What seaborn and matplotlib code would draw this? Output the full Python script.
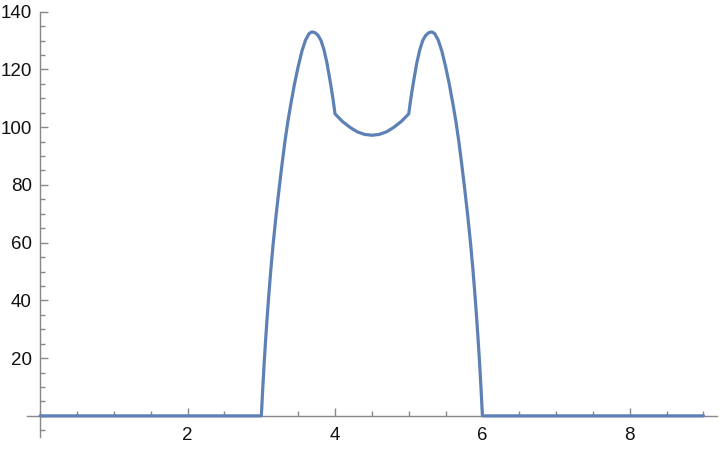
import matplotlib
matplotlib.use("Agg")
import matplotlib.pyplot as plt
from matplotlib.ticker import MultipleLocator, FixedLocator
import seaborn as sns
import pandas as pd

# ---- data ----
x_vals = [0.0, 3.00, 3.02, 3.04, 3.06, 3.08, 3.10, 3.13, 3.16, 3.20, 3.24, 3.28,
          3.32, 3.36, 3.40, 3.45, 3.50, 3.55, 3.60, 3.65, 3.69, 3.73, 3.77,
          3.81, 3.85, 3.89, 3.93, 3.97, 4.00, 4.10, 4.20, 4.30, 4.40, 4.50,
          4.60, 4.70, 4.80, 4.90, 5.00, 5.03, 5.07, 5.11, 5.15, 5.19, 5.23,
          5.27, 5.31, 5.35, 5.40, 5.45, 5.50, 5.55, 5.60, 5.64, 5.68, 5.72,
          5.76, 5.80, 5.84, 5.87, 5.90, 5.92, 5.94, 5.96, 5.98, 6.00, 9.0]
y_vals = [0.0, 0.0, 10.0, 19.0, 27.0, 34.5, 41.5, 51.0, 59.5, 69.5, 78.5, 87.0,
          95.0, 102.0, 108.0, 115.0, 121.0, 126.3, 130.2, 132.5, 133.0, 132.7, 131.8,
          130.0, 126.8, 122.3, 116.5, 110.2, 104.6, 102.0, 100.0, 98.4, 97.5, 97.2,
          97.5, 98.4, 100.0, 102.0, 104.6, 110.2, 116.5, 122.3, 126.8, 130.0, 131.8,
          132.7, 133.0, 132.5, 130.2, 126.3, 121.0, 115.0, 108.0, 102.0, 95.0, 87.0,
          78.5, 69.5, 59.5, 51.0, 41.5, 34.5, 27.0, 19.0, 10.0, 0.0, 0.0]
x_major_ticks = [2, 4, 6, 8]
y_major_ticks = [20, 40, 60, 80, 100, 120, 140]

df = pd.DataFrame({"x": x_vals, "y": y_vals})

sns.set_style("ticks")
plt.rcParams["font.family"] = ["Liberation Sans", "DejaVu Sans"]

fig = plt.figure(figsize=(7.2, 4.5), dpi=100)
ax = fig.add_axes([0.0375, 0.029, 0.958, 0.945])

sns.lineplot(data=df, x="x", y="y", sort=False, estimator=None,
             color="#5E81B5", linewidth=2.3, ax=ax, zorder=5, clip_on=False)

ax.set_xlim(-0.18, 9.18)
ax.set_ylim(-7.3, 140)

for s in ["top", "right"]:
    ax.spines[s].set_visible(False)
ax.spines["left"].set_position(("data", 0))
ax.spines["bottom"].set_position(("data", 0))
for s in ["left", "bottom"]:
    ax.spines[s].set_color("#888888")
    ax.spines[s].set_linewidth(1.0)

ax.xaxis.set_major_locator(FixedLocator(x_major_ticks))
ax.xaxis.set_minor_locator(MultipleLocator(0.5))
ax.yaxis.set_major_locator(FixedLocator(y_major_ticks))
ax.yaxis.set_minor_locator(MultipleLocator(5))

ax.tick_params(which="both", direction="in", color="#888888", width=1.0,
               labelsize=13.5, labelcolor="#111111")
ax.tick_params(which="major", length=5.5)
ax.tick_params(which="minor", length=3.3)
ax.tick_params(axis="x", which="major", pad=8)
ax.tick_params(axis="y", which="major", pad=6)

ax.set_xlabel("")
ax.set_ylabel("")

fig.savefig("out.png", dpi=100)
